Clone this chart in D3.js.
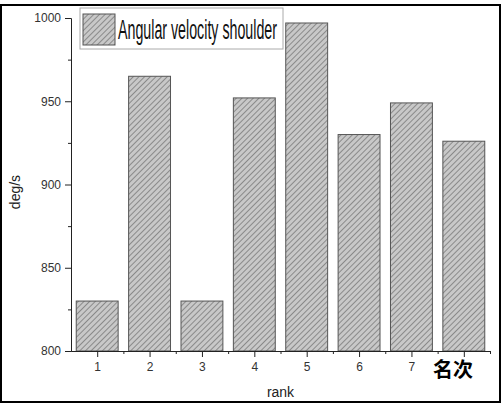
<!DOCTYPE html>
<html lang="en">
<head>
    <meta charset="UTF-8">
    <script src="https://cdn.jsdelivr.net/npm/d3@7"></script>
    <title>Angular velocity shoulder</title>
    <style>
        body { margin: 0; background: #fff; }
        svg { display: block; }
    </style>
</head>
<body>
    <script>
        const w = 502;
        const h = 405;

        // data
        const ranks = [1, 2, 3, 4, 5, 6, 7, 8];
        const velocities = [830, 965, 830, 952, 997, 930, 949, 926];
        const xTickLabels = ["1", "2", "3", "4", "5", "6", "7", ""];
        const yTicks = [800, 850, 900, 950, 1000];
        const yMinorTicks = [825, 875, 925, 975];
        const xMinorTicks = [1.5, 2.5, 3.5, 4.5, 5.5, 6.5, 7.5, 8.5];
        const seriesName = "Angular velocity shoulder";

        const plot = {left: 71, right: 490, top: 18, bottom: 351};

        const svg = d3.select("body")
                        .append("svg")
                        .attr("width", w)
                        .attr("height", h);

        //hatch pattern for the bars
        const pattern = svg.append("defs")
                            .append("pattern")
                            .attr("id", "hatch")
                            .attr("patternUnits", "userSpaceOnUse")
                            .attr("width", 4)
                            .attr("height", 4)
                            .attr("patternTransform", "rotate(45)");
        pattern.append("rect")
                .attr("width", 4)
                .attr("height", 4)
                .attr("fill", "#c8c8c8");
        pattern.append("line")
                .attr("x1", 0.5).attr("y1", 0)
                .attr("x2", 0.5).attr("y2", 4)
                .attr("stroke", "#8a8a8a")
                .attr("stroke-width", 1);

        //outer frame
        svg.append("rect")
            .attr("x", 1)
            .attr("y", 5)
            .attr("width", 499)
            .attr("height", 397)
            .attr("fill", "none")
            .attr("stroke", "#000")
            .attr("stroke-width", 2);

        //scales
        const xScale = d3.scaleLinear()
                            .domain([0.5, 8.5])
                            .range([plot.left, plot.right]);

        const yScale = d3.scaleLinear()
                            .domain([800, 1000])
                            .range([plot.bottom, plot.top]);

        //bars
        svg.selectAll("rect.bar")
            .data(ranks)
            .enter()
            .append("rect")
            .attr("class", "bar")
            .attr("x", (d) => xScale(d - 0.4))
            .attr("y", (d, i) => yScale(velocities[i]))
            .attr("width", (d) => xScale(d + 0.4) - xScale(d - 0.4))
            .attr("height", (d, i) => yScale(800) - yScale(velocities[i]))
            .attr("fill", "url(#hatch)")
            .attr("stroke", "#555")
            .attr("stroke-width", 1);

        //axes
        const styleAxis = (g) => {
            g.select(".domain").attr("stroke", "#222");
            g.selectAll(".tick line").attr("stroke", "#222");
            g.selectAll(".tick text")
                .attr("fill", "#333")
                .style("font-family", "'Liberation Sans', Arial, sans-serif")
                .style("font-size", "12px");
        };

        svg.append("g")
            .attr("transform", "translate(0," + plot.bottom + ")")
            .call(d3.axisBottom(xScale)
                    .tickValues(xMinorTicks)
                    .tickSize(3)
                    .tickSizeOuter(0)
                    .tickFormat(""))
            .call(styleAxis);

        svg.append("g")
            .attr("transform", "translate(0," + plot.bottom + ")")
            .call(d3.axisBottom(xScale)
                    .tickValues(ranks)
                    .tickSize(6)
                    .tickSizeOuter(0)
                    .tickPadding(5)
                    .tickFormat((d, i) => xTickLabels[i]))
            .call(styleAxis);

        svg.append("g")
            .attr("transform", "translate(" + plot.left + ",0)")
            .call(d3.axisLeft(yScale)
                    .tickValues(yMinorTicks)
                    .tickSize(3)
                    .tickSizeOuter(0)
                    .tickFormat(""))
            .call(styleAxis);

        svg.append("g")
            .attr("transform", "translate(" + plot.left + ",0)")
            .call(d3.axisLeft(yScale)
                    .tickValues(yTicks)
                    .tickSize(6)
                    .tickSizeOuter(0)
                    .tickPadding(4)
                    .tickFormat(d3.format("d")))
            .call(styleAxis);

        //axis titles
        svg.append("text")
            .attr("transform", "translate(20,192) rotate(-90)")
            .attr("text-anchor", "middle")
            .attr("fill", "#222")
            .style("font-family", "'Liberation Sans', Arial, sans-serif")
            .style("font-size", "14px")
            .text("deg/s");

        svg.append("text")
            .attr("x", (plot.left + plot.right) / 2)
            .attr("y", 397)
            .attr("text-anchor", "middle")
            .attr("fill", "#222")
            .style("font-family", "'Liberation Sans', Arial, sans-serif")
            .style("font-size", "14px")
            .text("rank");

        svg.append("text")
            .attr("x", 453)
            .attr("y", 377)
            .attr("text-anchor", "middle")
            .attr("fill", "#000")
            .style("font-family", "'Noto Sans CJK SC', sans-serif")
            .style("font-weight", "bold")
            .style("font-size", "20px")
            .text("名次");

        //legend
        const legend = svg.append("g");
        legend.append("rect")
                .attr("x", 80)
                .attr("y", 8)
                .attr("width", 203)
                .attr("height", 41)
                .attr("fill", "#fff")
                .attr("stroke", "#aaa")
                .attr("stroke-width", 1);
        legend.append("rect")
                .attr("x", 83)
                .attr("y", 14)
                .attr("width", 32)
                .attr("height", 31)
                .attr("fill", "url(#hatch)")
                .attr("stroke", "#555")
                .attr("stroke-width", 1);
        legend.append("text")
                .attr("x", 118)
                .attr("y", 39)
                .attr("textLength", 159)
                .attr("lengthAdjust", "spacingAndGlyphs")
                .attr("fill", "#111")
                .style("font-family", "'Liberation Sans Narrow', 'Liberation Sans', Arial, sans-serif")
                .style("font-size", "27px")
                .text(seriesName);
    </script>
</body>
</html>
